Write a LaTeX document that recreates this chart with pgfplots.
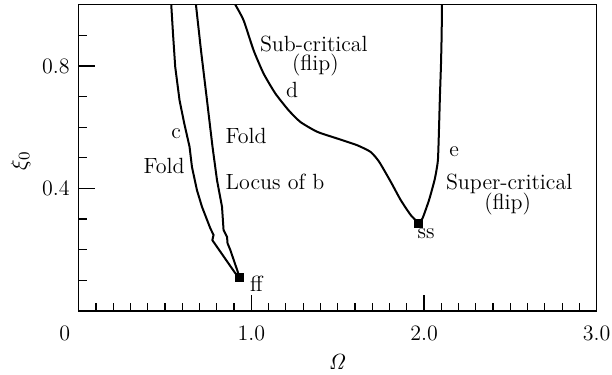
\documentclass[border=0pt]{standalone}
\usepackage{pgfplots}
\pgfplotsset{compat=1.18}
\begin{document}
\begin{tikzpicture}[font=\fontsize{11}{13}\selectfont]
\begin{axis}[
  scale only axis,
  width=259pt, height=153.1pt,
  xmin=0, xmax=3, ymin=0, ymax=1,
  axis line style={line width=0.7pt},
  tick pos=left,
  tick align=inside,
  major tick length=8pt,
  minor tick length=4pt,
  every tick/.style={black, line width=0.6pt},
  xtick={0,1,2,3},
  xticklabels={\llap{0\kern4.25pt},1.0,2.0,3.0},
  minor xtick={0.1,0.2,0.3,0.4,0.5,0.6,0.7,0.8,0.9,1.1,1.2,1.3,1.4,1.5,1.6,1.7,1.8,1.9,2.1,2.2,2.3,2.4,2.5,2.6,2.7,2.8,2.9},
  ytick={0.4,0.8},
  yticklabels={0.4,0.8},
  minor ytick={0.1,0.2,0.3,0.5,0.6,0.7,0.9},
  xticklabel style={yshift=-4pt},
  yticklabel style={xshift=-1pt},
  every axis x label/.style={at={(axis description cs:0.5,0)}, yshift=-25.4pt, anchor=center},
  every axis y label/.style={at={(axis description cs:-0.112,0.49)}, rotate=90, anchor=center},
  xlabel={$\mathit{\Omega}$},
  ylabel={$\xi_0$},
]
% curve c (Fold)
\addplot[black, line width=1pt] coordinates {
(0.536,1.0) (0.546,0.907) (0.559,0.797) (0.584,0.688) (0.611,0.613)
(0.642,0.536) (0.656,0.470) (0.685,0.394) (0.714,0.340) (0.762,0.270)
(0.781,0.248) (0.774,0.231) (0.907,0.123) (0.932,0.110)};
% curve b (Locus of b)
\addplot[black, line width=1pt] coordinates {
(0.679,1.0) (0.708,0.852) (0.743,0.688) (0.775,0.536) (0.801,0.427)
(0.830,0.340) (0.839,0.264) (0.859,0.242) (0.862,0.221) (0.878,0.199)
(0.932,0.110)};
% curves d and e (flip)
\addplot[black, line width=1pt, smooth, tension=0.35] coordinates {
(0.907,1.0) (0.955,0.949) (1.013,0.851) (1.071,0.775) (1.139,0.710)
(1.216,0.655) (1.284,0.617) (1.381,0.585) (1.497,0.563) (1.613,0.541)
(1.691,0.519) (1.740,0.487) (1.807,0.422) (1.865,0.362) (1.923,0.313)
(1.968,0.287)};
\addplot[black, line width=1pt, smooth, tension=0.35] coordinates {
(1.968,0.287) (1.991,0.302) (2.029,0.362) (2.062,0.430) (2.080,0.490)
(2.086,0.580) (2.092,0.700) (2.098,0.800) (2.102,0.900) (2.104,1.0)};
% special points
\addplot[only marks, mark=square*, mark size=2pt, black] coordinates {(0.932,0.110) (1.968,0.287)};
% labels
\begin{scope}[every node/.style={inner sep=0pt}]
\node at (axis cs:1.362,0.873) {Sub-critical};
\node at (axis cs:1.371,0.802) {(flip)};
\node at (axis cs:1.236,0.721) {d};
\node at (axis cs:0.565,0.579) {c};
\node at (axis cs:0.495,0.474) {Fold};
\node at (axis cs:0.969,0.571) {Fold};
\node at (axis cs:1.137,0.422) {Locus of b};
\node at (axis cs:2.174,0.519) {e};
\node at (axis cs:2.493,0.416) {Super-critical};
\node at (axis cs:2.484,0.350) {(flip)};
\node at (axis cs:2.012,0.252) {ss};
\node at (axis cs:1.029,0.090) {ff};
\end{scope}
\end{axis}
\pgfresetboundingbox
\useasboundingbox (-39.35pt,-32.05pt) rectangle (266.65pt,155.45pt);
\end{tikzpicture}
\end{document}
